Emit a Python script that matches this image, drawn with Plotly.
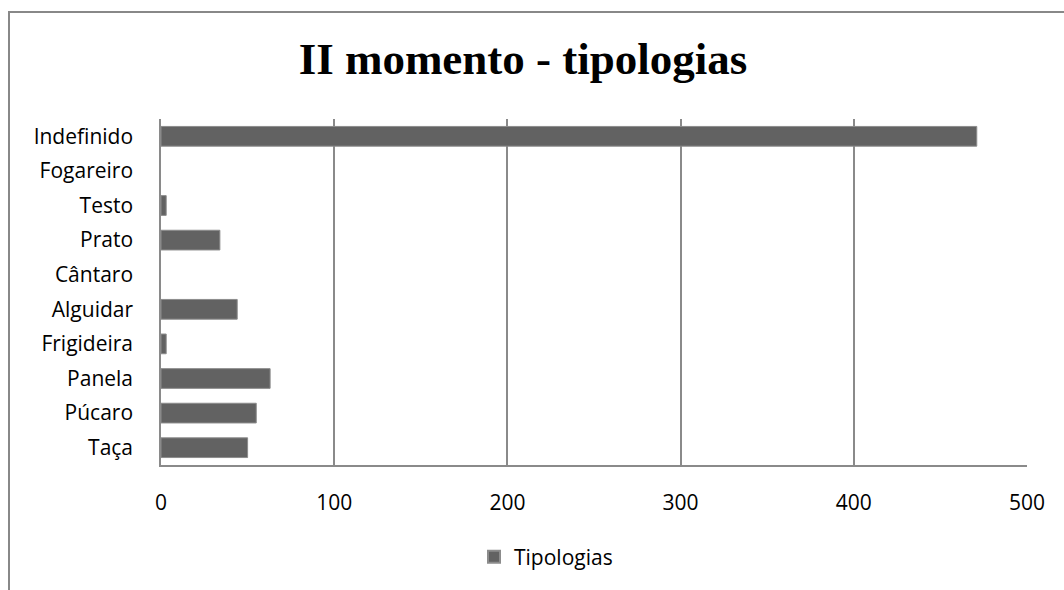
import plotly.graph_objects as go

categories = ["Taça", "Púcaro", "Panela", "Frigideira", "Alguidar", "Cântaro",
              "Prato", "Testo", "Fogareiro", "Indefinido"]
values = [50, 55, 63, 3, 44, 0, 34, 3, 0, 471]
series_name = "Tipologias"
x_ticks = [0, 100, 200, 300, 400, 500]

W, H = 1064, 590
L, R, T, B = 161, 37, 119, 125
pw, ph = W - L - R, H - T - B

def px_x(x):
    return (x - L) / pw

def px_y(y):
    return (H - B - y) / ph

fig = go.Figure(go.Bar(
    y=categories, x=values, orientation="h", name=series_name,
    marker=dict(color="#626262",
                line=dict(color="#8c8c8c", width=[1 if v > 0 else 0 for v in values])),
    showlegend=True,
))

label_font = dict(family="Open Sans, Lato, sans-serif", size=21, color="#000000")

fig.update_layout(
    width=W, height=H,
    margin=dict(l=L, r=R, t=T, b=B),
    paper_bgcolor="white", plot_bgcolor="white",
    bargap=0.43,
    title=dict(text="<b>II momento - tipologias</b>",
               font=dict(family="Liberation Serif, Times New Roman, serif", size=45, color="#000"),
               x=523 / W, xanchor="center", xref="container",
               y=1 - 58 / H, yanchor="middle", yref="container"),
    xaxis=dict(range=[0, 500], tickvals=x_ticks, showgrid=True, gridcolor="#8a8a8a",
               gridwidth=1.5, showline=True, linecolor="#8a8a8a", linewidth=1.5,
               zeroline=False, ticks="", ticklabelstandoff=18, tickfont=label_font),
    yaxis=dict(categoryorder="array", categoryarray=categories, showgrid=False,
               showline=True, linecolor="#8a8a8a", linewidth=1.5, ticks="",
               ticklabelstandoff=22, tickfont=label_font),
    legend=dict(orientation="h", x=px_x(546), xanchor="center", y=px_y(557), yanchor="middle",
                font=label_font, itemsizing="constant"),
    shapes=[dict(type="rect", xref="paper", yref="paper",
                 x0=px_x(9), x1=px_x(W + 20), y0=px_y(H + 20), y1=px_y(12),
                 line=dict(color="#888888", width=2), fillcolor="rgba(0,0,0,0)", layer="below")],
)

fig.write_html("out.html", config={"displayModeBar": False},
               post_script="document.body.style.margin='0';document.body.style.overflow='hidden';")
